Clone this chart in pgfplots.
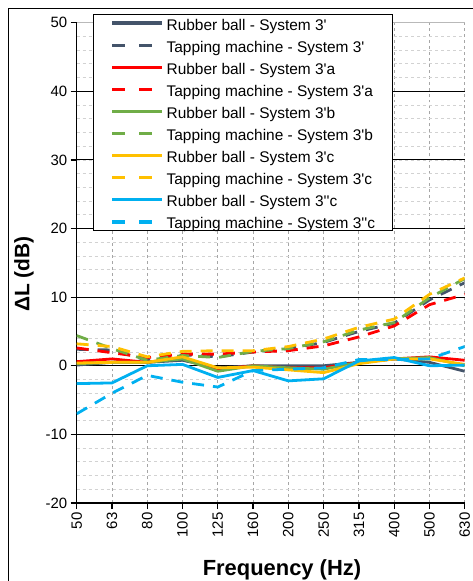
\documentclass[border=0pt]{standalone}
\usepackage{fontspec}
\setmainfont{Liberation Sans}[Ligatures=TeXOff]
\usepackage{pgfplots}
\pgfplotsset{compat=1.18}

\definecolor{cgray}{HTML}{44546A}
\definecolor{cred}{HTML}{FF0000}
\definecolor{cgreen}{HTML}{70AD47}
\definecolor{cyellow}{HTML}{FFC000}
\definecolor{cblue}{HTML}{00B0F0}

\begin{document}
\begin{tikzpicture}
\useasboundingbox (0bp,0bp) rectangle (473bp,581bp);
% outer chart frame (right and bottom edges fall off the page)
\draw[black, line width=1bp] (8bp,-5bp) -- (8bp,572.5bp) -- (480bp,572.5bp);
\begin{axis}[
    at={(76.7bp,78bp)}, anchor=south west,
    scale only axis, width=388bp, height=480.3bp,
    xmin=0, xmax=11, ymin=-20, ymax=50,
    xtick={0,...,11},
    xticklabels={50,63,80,100,125,160,200,250,315,400,500,630},
    ytick={-20,-10,...,40},
    extra y ticks={50},
    extra y tick style={major y grid style={gray!55, line width=0.8bp}},
    minor ytick={-18,-16,...,48},
    axis x line*=bottom, axis y line*=left,
    axis line style={-, black, line width=1.3bp},
    tick align=outside, major tick length=6bp, minor tick length=0bp,
    tick style={black, line width=1.3bp},
    xmajorgrids, ymajorgrids, yminorgrids,
    major x grid style={gray!70, dashed, line width=0.8bp},
    major y grid style={black, line width=1bp},
    minor y grid style={gray!35, dashed, line width=0.8bp},
    ticklabel style={font=\fontsize{15}{18}\selectfont},
    /pgf/number format/assume math mode=true,
    xticklabel style={rotate=90, anchor=east},
    xlabel={\textbf{Frequency (Hz)}},
    ylabel={\textbf{ΔL (dB)}},
    xlabel style={font=\fontsize{22}{26}\selectfont, at={(axis description cs:0.529,-0.150)}, anchor=base},
    ylabel style={font=\fontsize{21}{25}\selectfont, at={(axis description cs:-0.136,0.477)}, anchor=center, rotate=0},
    every axis plot/.append style={line width=2.8bp},
    tapping/.style={dash pattern=on 12bp off 9bp,
        /pgfplots/legend image post style={dash pattern=on 13bp off 14bp}},
    legend image code/.code={\draw[#1, line width=3.2bp] (0bp,0bp) -- (50bp,0bp);},
    legend cell align=left,
    legend style={at={(0.042,1.018)}, anchor=north west,
        draw=black, line width=0.9bp, fill=white,
        font=\fontsize{15.5}{18}\selectfont,
        inner xsep=17bp, inner ysep=1.5bp, row sep=8.1bp, column sep=3bp,
        nodes={inner sep=0pt, text height=14bp, text depth=0bp}},
]
\addplot[cgray, solid] coordinates {(0,0.1) (1,0.5) (2,0.5) (3,0.8) (4,-0.3) (5,0.0) (6,0.0) (7,0.0) (8,0.5) (9,1.0) (10,0.5) (11,-0.8)};
\addlegendentry{Rubber ball - System 3'}
\addplot[cgray, tapping] coordinates {(0,2.4) (1,2.3) (2,0.8) (3,1.6) (4,1.3) (5,2.0) (6,2.5) (7,3.4) (8,5.0) (9,6.2) (10,9.6) (11,12.1)};
\addlegendentry{Tapping machine - System 3'}
\addplot[cred, solid] coordinates {(0,0.6) (1,1.0) (2,0.5) (3,1.2) (4,-0.5) (5,0.0) (6,-0.3) (7,-0.3) (8,0.5) (9,1.0) (10,1.3) (11,0.8)};
\addlegendentry{Rubber ball - System 3'a}
\addplot[cred, tapping] coordinates {(0,2.6) (1,1.9) (2,1.2) (3,1.7) (4,1.7) (5,2.0) (6,2.2) (7,2.9) (8,4.2) (9,5.8) (10,8.9) (11,10.4)};
\addlegendentry{Tapping machine - System 3'a}
\addplot[cgreen, solid] coordinates {(0,0.3) (1,0.5) (2,0.5) (3,1.0) (4,-0.8) (5,0.0) (6,-0.3) (7,-0.5) (8,0.5) (9,1.0) (10,1.2) (11,0.0)};
\addlegendentry{Rubber ball - System 3'b}
\addplot[cgreen, tapping] coordinates {(0,4.4) (1,2.5) (2,0.8) (3,1.5) (4,1.2) (5,2.1) (6,2.5) (7,3.5) (8,5.2) (9,6.3) (10,9.9) (11,12.7)};
\addlegendentry{Tapping machine - System 3'b}
\addplot[cyellow, solid] coordinates {(0,0.4) (1,0.5) (2,0.5) (3,1.3) (4,-0.3) (5,-0.2) (6,-0.6) (7,-1.0) (8,0.3) (9,1.0) (10,1.0) (11,0.2)};
\addlegendentry{Rubber ball - System 3'c}
\addplot[cyellow, tapping] coordinates {(0,3.2) (1,2.8) (2,1.3) (3,2.1) (4,2.2) (5,2.2) (6,2.8) (7,3.9) (8,5.6) (9,6.8) (10,10.4) (11,12.8)};
\addlegendentry{Tapping machine - System 3'c}
\addplot[cblue, solid] coordinates {(0,-2.6) (1,-2.5) (2,0.0) (3,0.2) (4,-1.7) (5,-0.7) (6,-2.2) (7,-1.9) (8,0.7) (9,1.2) (10,0.0) (11,0.1)};
\addlegendentry{Rubber ball - System 3''c}
\addplot[cblue, tapping] coordinates {(0,-7.0) (1,-4.0) (2,-1.4) (3,-2.4) (4,-3.1) (5,-0.7) (6,-0.5) (7,-0.3) (8,0.9) (9,0.9) (10,1.0) (11,2.8)};
\addlegendentry{Tapping machine - System 3''c}
\end{axis}
\end{tikzpicture}
\end{document}
